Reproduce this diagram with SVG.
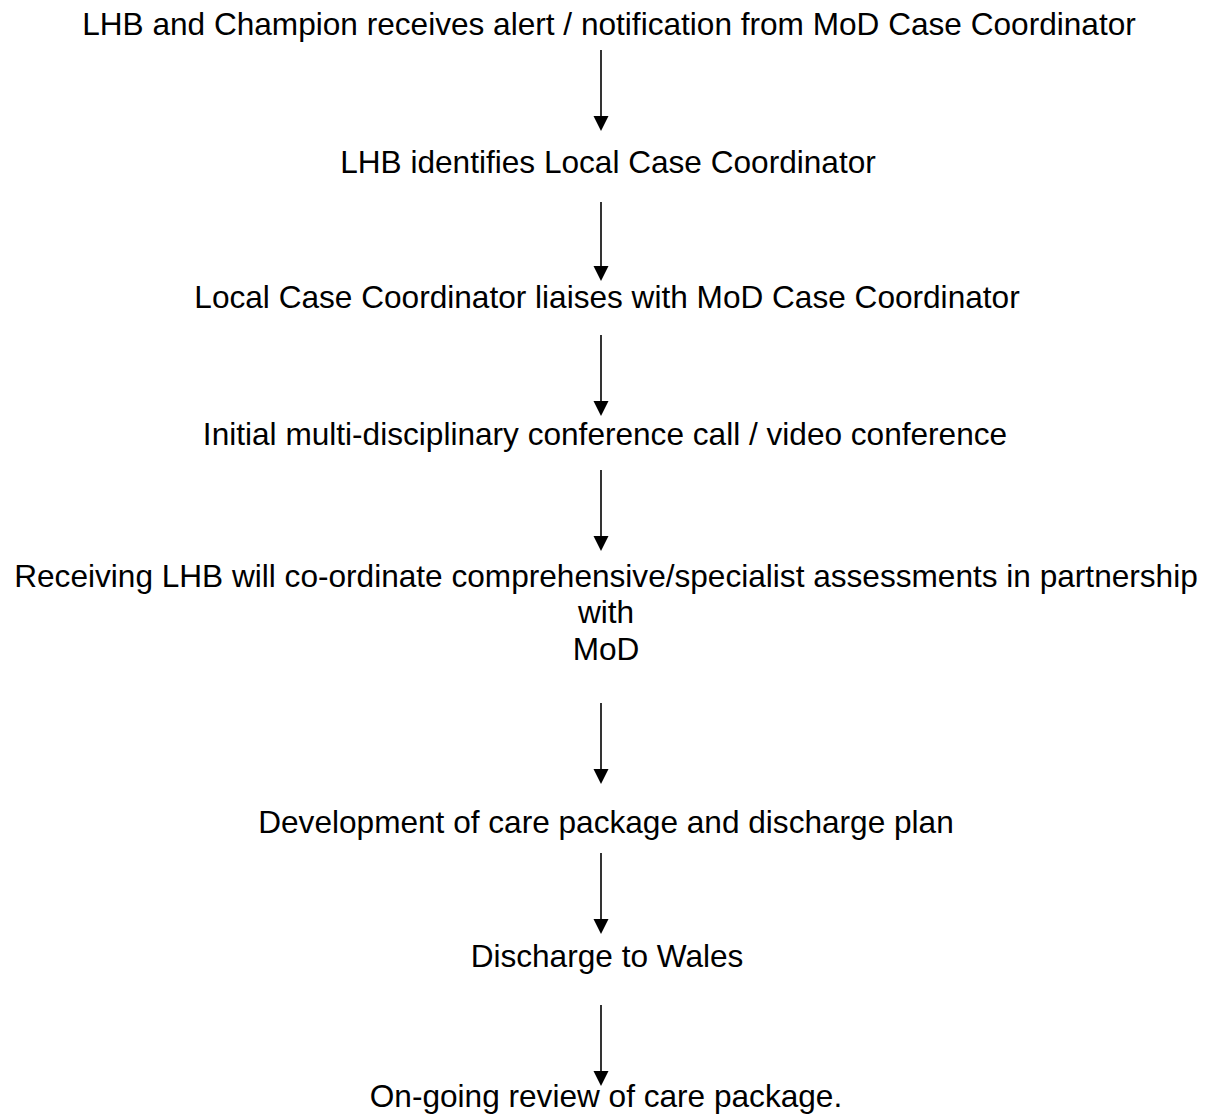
<svg xmlns="http://www.w3.org/2000/svg" width="1213" height="1115" viewBox="0 0 1213 1115">
<defs>
<style>
text{font-family:"Liberation Sans",Arial,sans-serif;font-size:31.6px;fill:#000;text-anchor:middle}
.c line{stroke:#000;stroke-width:1.6}
.c path{fill:#000}
</style>
</defs>
<rect width="1213" height="1115" fill="#fff"/>
<g id="n1"><text x="609" y="35">LHB and Champion receives alert / notification from MoD Case Coordinator</text></g>
<g id="n2"><text x="608" y="173">LHB identifies Local Case Coordinator</text></g>
<g id="n3"><text x="607" y="308">Local Case Coordinator liaises with MoD Case Coordinator</text></g>
<g id="n4"><text x="605" y="445">Initial multi-disciplinary conference call / video conference</text></g>
<g id="n5"><text x="606" y="587">Receiving LHB will co-ordinate comprehensive/specialist assessments in partnership</text><text x="606" y="623">with</text><text x="606" y="660">MoD</text></g>
<g id="n6"><text x="606" y="833">Development of care package and discharge plan</text></g>
<g id="n7"><text x="607" y="967">Discharge to Wales</text></g>
<g id="n8"><text x="606" y="1107">On-going review of care package.</text></g>
<g id="connectors" class="c">
<line x1="601" y1="50" x2="601" y2="118"/><path d="M593.5 116 L608.5 116 L601 131 Z"/>
<line x1="601" y1="202" x2="601" y2="268"/><path d="M593.5 266 L608.5 266 L601 281 Z"/>
<line x1="601" y1="335" x2="601" y2="403"/><path d="M593.5 401 L608.5 401 L601 416 Z"/>
<line x1="601" y1="470" x2="601" y2="538"/><path d="M593.5 536 L608.5 536 L601 551 Z"/>
<line x1="601" y1="703" x2="601" y2="771"/><path d="M593.5 769 L608.5 769 L601 784 Z"/>
<line x1="601" y1="853" x2="601" y2="921"/><path d="M593.5 919 L608.5 919 L601 934 Z"/>
<line x1="601" y1="1005" x2="601" y2="1073"/><path d="M593.5 1071 L608.5 1071 L601 1086 Z"/>
</g>
</svg>
